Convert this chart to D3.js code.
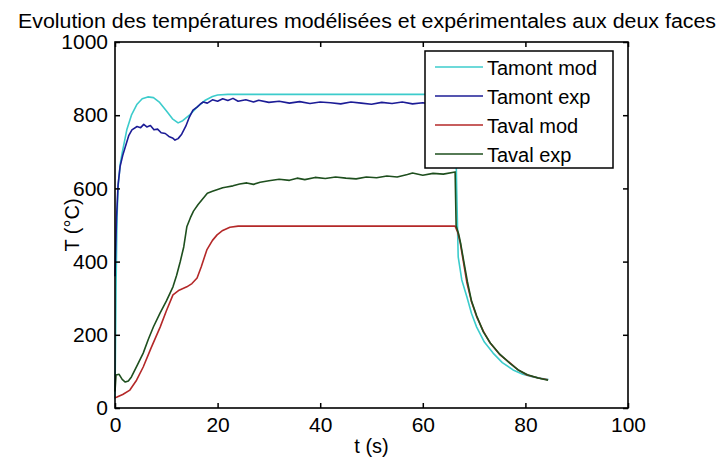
<!DOCTYPE html>
<html>
<head>
<meta charset="utf-8">
<script src="https://cdn.jsdelivr.net/npm/d3@7"></script>
<style>
  body { margin: 0; background: #fff; }
  text { font-family: "Liberation Sans", Arial, sans-serif; fill: #000; }
</style>
</head>
<body>
<script>
// data (t in s, T in °C)
var tamontModT = [0, 0.2, 0.4, 0.6, 1.0, 1.4, 2.3, 3.2, 4.3, 5.3, 6.4, 7.5, 8.7, 10.0, 11.2, 12.3, 13.2, 14.5, 16.0, 17.5, 19.0, 20.0, 22.0, 25.0, 30, 40, 50, 60, 66.3, 66.6, 66.9, 67.6, 68.6, 69.5, 70.5, 72.0, 73.7, 75.5, 77.6, 79.5, 81.5, 83.0, 84.5];
var tamontModV = [25, 330, 522, 604, 665, 697, 760, 800, 830, 845, 850, 848, 835, 812, 790, 779, 785, 800, 822, 840, 851, 855, 857, 857, 857, 857, 857, 857, 857, 600, 413, 350, 303, 258, 221, 180, 150, 124, 104, 92, 85, 81, 78];

var tamontExpT = [0, 0.3, 0.6, 1.0, 1.5, 2.0, 2.7, 3.3, 4.3, 5.0, 5.6, 6.2, 6.9, 7.6, 8.3, 9.0, 9.8, 10.5, 11.2, 11.7, 12.3, 13.0, 13.8, 14.5, 15.2, 16.0, 16.6, 17.2, 18.0, 19.0, 20.0, 21.0, 22.0, 23.0, 24.0, 25.5, 27.0, 28.0, 30.0, 32.0, 34.0, 36.0, 38.0, 40.0, 42.0, 44.0, 46.0, 48.0, 50.0, 52.0, 54.0, 56.0, 58.0, 60.0, 62.0, 64.0, 66.3];
var tamontExpV = [360, 520, 610, 660, 690, 713, 745, 760, 769, 766, 775, 768, 772, 760, 762, 752, 750, 742, 738, 732, 736, 748, 770, 795, 814, 822, 830, 836, 833, 842, 838, 845, 840, 846, 838, 842, 836, 841, 835, 838, 833, 837, 832, 836, 834, 831, 836, 833, 830, 835, 832, 836, 831, 834, 830, 833, 831];

var tavalModT = [0, 0.4, 1.5, 2.9, 4.2, 5.5, 7.0, 8.8, 10.0, 11.3, 12.5, 14.0, 15.0, 16.0, 16.8, 17.9, 19.0, 19.9, 21.0, 22.4, 24.0, 30, 40, 50, 60, 66.3, 66.8, 67.3, 68.6, 69.5, 70.5, 71.8, 73.1, 75.0, 77.0, 78.5, 80.3, 82.5, 84.4];
var tavalModV = [28, 30, 37, 49, 76, 112, 163, 221, 265, 309, 322, 331, 340, 355, 385, 432, 458, 473, 485, 494, 497, 497, 497, 497, 497, 497, 480, 451, 342, 290, 249, 210, 178, 146, 123, 105, 90, 82, 77];

var tavalExpT = [0, 0.2, 0.8, 1.4, 2.0, 2.6, 3.2, 4.3, 5.5, 6.5, 7.5, 8.8, 10.0, 11.3, 12.0, 12.7, 13.4, 14.0, 14.7, 15.3, 16.2, 17.0, 18.0, 19.0, 20.0, 21.0, 21.8, 23.0, 24.3, 25.7, 27.0, 28.3, 30.0, 32.0, 34.0, 35.5, 37.0, 39.0, 41.0, 43.0, 45.0, 47.0, 49.0, 51.0, 53.0, 55.0, 57.0, 58.0, 60.0, 62.0, 64.0, 66.3, 66.5, 67.0, 67.4, 68.0, 68.7, 69.5, 70.5, 71.8, 73.2, 75.0, 77.0, 78.6, 80.4, 82.5, 84.4];
var tavalExpV = [45, 90, 92, 78, 71, 74, 85, 116, 150, 188, 222, 260, 292, 331, 362, 399, 440, 495, 520, 538, 556, 570, 587, 592, 597, 602, 604, 607, 612, 615, 611, 617, 621, 625, 622, 628, 624, 630, 627, 631, 628, 626, 631, 629, 634, 631, 638, 642, 636, 641, 639, 645, 497, 475, 448, 400, 345, 292, 252, 208, 177, 147, 122, 104, 91, 82, 76];

var seriesNames = ["Tamont mod", "Tamont exp", "Taval mod", "Taval exp"];
var seriesColors = ["#3ccccc", "#1c1c96", "#b42828", "#1e4f1e"];

var xTicks = [0, 20, 40, 60, 80, 100];
var yTicks = [0, 200, 400, 600, 800, 1000];

var W = 723, H = 466;
var margin = {left: 115, right: 95, top: 42, bottom: 58};

var svg = d3.select("body").append("svg")
            .attr("width", W)
            .attr("height", H);

var x = d3.scaleLinear().domain([0, 100]).range([margin.left, W - margin.right]);
var y = d3.scaleLinear().domain([0, 1000]).range([H - margin.bottom, margin.top]);

// title
svg.append("text")
    .attr("x", 18)
    .attr("y", 28)
    .attr("font-size", 20)
    .attr("textLength", 698)
    .attr("lengthAdjust", "spacingAndGlyphs")
    .text("Evolution des températures modélisées et expérimentales aux deux faces");

// curves
var series = [
  {t: tamontModT, v: tamontModV},
  {t: tamontExpT, v: tamontExpV},
  {t: tavalModT, v: tavalModV},
  {t: tavalExpT, v: tavalExpV}
];

var line = d3.line()
    .x(function(d){ return x(d[0]); })
    .y(function(d){ return y(d[1]); });

svg.selectAll("path.curve")
    .data(series)
    .enter().append("path")
      .attr("class", "curve")
      .attr("fill", "none")
      .attr("stroke", function(d,i){ return seriesColors[i]; })
      .attr("stroke-width", 1.6)
      .attr("stroke-linejoin", "round")
      .attr("d", function(d){ return line(d.t.map(function(t,i){ return [t, d.v[i]]; })); });

// axes, ticks inward on all four sides
svg.append("g")
    .attr("transform", "translate(0," + y(0) + ")")
    .call(d3.axisBottom(x).tickValues(xTicks).tickSize(-5).tickPadding(9).tickFormat(d3.format("d")))
    .call(function(g){ g.select(".domain").remove(); });
svg.append("g")
    .attr("transform", "translate(0," + y(1000) + ")")
    .call(d3.axisTop(x).tickValues(xTicks).tickSize(-5).tickFormat(""))
    .call(function(g){ g.select(".domain").remove(); });
svg.append("g")
    .attr("transform", "translate(" + x(0) + ",0)")
    .call(d3.axisLeft(y).tickValues(yTicks).tickSize(-5).tickPadding(7).tickFormat(d3.format("d")))
    .call(function(g){ g.select(".domain").remove(); });
svg.append("g")
    .attr("transform", "translate(" + x(100) + ",0)")
    .call(d3.axisRight(y).tickValues(yTicks).tickSize(-5).tickFormat(""))
    .call(function(g){ g.select(".domain").remove(); });

svg.selectAll(".tick line").attr("stroke", "#000").attr("stroke-width", 1.5);
svg.selectAll(".tick text")
    .attr("font-size", 21)
    .attr("font-family", "Liberation Sans, Arial, sans-serif")
    .attr("fill", "#000");

svg.append("rect")
    .attr("x", x(0))
    .attr("y", y(1000))
    .attr("width", x(100) - x(0))
    .attr("height", y(0) - y(1000))
    .attr("fill", "none")
    .attr("stroke", "#000")
    .attr("stroke-width", 1.6);

// axis labels
svg.append("text")
    .attr("x", (x(0) + x(100)) / 2)
    .attr("y", 453)
    .attr("font-size", 20)
    .attr("text-anchor", "middle")
    .text("t (s)");

svg.append("text")
    .attr("transform", "translate(79," + y(500) + ") rotate(-90)")
    .attr("font-size", 20)
    .attr("text-anchor", "middle")
    .text("T (°C)");

// legend
var legend = svg.append("g");
legend.append("rect")
    .attr("x", 425)
    .attr("y", 51)
    .attr("width", 188)
    .attr("height", 117)
    .attr("fill", "#fff")
    .attr("stroke", "#000")
    .attr("stroke-width", 1.5);

legend.selectAll("line")
    .data(seriesNames)
    .enter().append("line")
      .attr("x1", 435)
      .attr("x2", 483)
      .attr("y1", function(d,i){ return 67 + i*29; })
      .attr("y2", function(d,i){ return 67 + i*29; })
      .attr("stroke", function(d,i){ return seriesColors[i]; })
      .attr("stroke-width", 1.6);

legend.selectAll("text")
    .data(seriesNames)
    .enter().append("text")
      .attr("x", 487)
      .attr("y", function(d,i){ return 75 + i*29; })
      .attr("font-size", 20)
      .text(function(d){ return d; });
</script>
</body>
</html>
